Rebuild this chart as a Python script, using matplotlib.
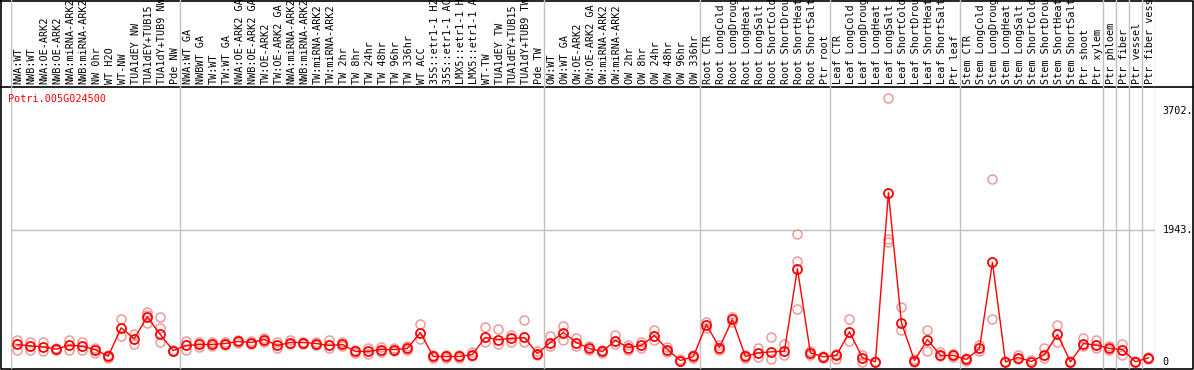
import numpy as np
import matplotlib
matplotlib.use("Agg")
import matplotlib.pyplot as plt

# column labels (as shown, truncated to 14 chars)
labels = [
    "NWA:WT", "NWB:WT", "NWA:OE-ARK2", "NWB:OE-ARK2", "NWA:miRNA-ARK2", "NWB:miRNA-ARK2",
    "NW 0hr", "WT H2O", "WT-NW", "TUA1dEY NW", "TUA1dEY+TUB15", "TUA1dY+TUB9 NW", "Pde NW",
    "NWA:WT GA", "NWBWT GA", "TW:WT", "TW:WT GA", "NWA:OE-ARK2 GA", "NWB:OE-ARK2 GA",
    "TW:OE-ARK2", "TW:OE-ARK2 GA", "NWA:miRNA-ARK2", "NWB:miRNA-ARK2", "TW:miRNA-ARK2",
    "TW:miRNA-ARK2", "TW 2hr", "TW 8hr", "TW 24hr", "TW 48hr", "TW 96hr", "TW 336hr",
    "WT ACC", "35S::etr1-1 H2", "35S::etr1-1 AC", "LMX5::etr1-1 H", "LMX5::etr1-1 A",
    "WT-TW", "TUA1dEY TW", "TUA1dEY+TUB15", "TUA1dY+TUB9 TW", "Pde TW",
    "OW:WT", "OW:WT GA", "OW:OE-ARK2", "OW:OE-ARK2 GA", "OW:miRNA-ARK2", "OW:miRNA-ARK2",
    "OW 2hr", "OW 8hr", "OW 24hr", "OW 48hr", "OW 96hr", "OW 336hr",
    "Root CTR", "Root LongCold", "Root LongDroug", "Root LongHeat", "Root LongSalt",
    "Root ShortCold", "Root ShortDrou", "Root ShortHeat", "Root ShortSalt", "Ptr root",
    "Leaf CTR", "Leaf LongCold", "Leaf LongDroug", "Leaf LongHeat", "Leaf LongSalt",
    "Leaf ShortCold", "Leaf ShortDrou", "Leaf ShortHeat", "Leaf ShortSalt", "Ptr leaf",
    "Stem CTR", "Stem LongCold", "Stem LongDroug", "Stem LongHeat", "Stem LongSalt",
    "Stem ShortCold", "Stem ShortDrou", "Stem ShortHeat", "Stem ShortSalt", "Ptr shoot",
    "Ptr xylem", "Ptr phloem", "Ptr fiber", "Ptr vessel", "Ptr fiber vess",
]

# group boundaries (column index where a separator is drawn)
separators = [0, 13, 41, 53, 63, 73, 84, 85, 86, 87, 88]

# mean expression per column
means = [
    258, 238, 224, 188, 247, 233, 180, 85, 503, 342, 665, 405, 169,
    243, 258, 258, 272, 302, 287, 331, 243, 287, 287, 272, 243, 258, 155, 155, 184, 184,
    199, 434, 81, 81, 81, 110, 361, 331, 346, 361, 125,
    287, 434, 287, 199, 155, 316, 213, 243, 390, 184, 22, 81,
    552, 213, 626, 81, 135, 150, 159, 1372, 135, 77,
    96, 445, 62, 3, 2491, 577, 22, 331, 96, 96,
    37, 199, 1465, 2, 66, 7, 110, 405, 3, 272, 247,
    199, 184, 3, 62,
]

# replicate values per column
reps = [
    [321, 174], [291, 184], [291, 159], [203, 174], [321, 174], [291, 174], [209, 135],
    [110, 62], [640, 380], [415, 268], [733, 699, 567], [665, 503, 291], [175, 165],
    [316, 184], [300, 220], [300, 230], [290, 250], [330, 280], [310, 260], [350, 300],
    [300, 200], [320, 260], [300, 270], [290, 250], [330, 200], [290, 230], [180, 130],
    [200, 120], [220, 150], [210, 160], [230, 170], [560, 340], [110, 60], [110, 60],
    [110, 60], [140, 90], [520, 300], [480, 260], [400, 300], [620, 300], [160, 100],
    [390, 230], [530, 330], [360, 240], [230, 170], [180, 130], [400, 260], [250, 180],
    [290, 200], [470, 330], [220, 150], [50, 10], [110, 60],
    [590, 500], [250, 180], [660, 590], [110, 60], [199, 77], [375, 37], [272, 96],
    [1887, 1480, 773], [155, 96], [90, 60],
    [50, 120], [626, 302], [110, 0], [10], [3886, 1810, 1766], [810, 469], [47, 0],
    [464, 169], [140, 81], [120, 80],
    [60, 20], [250, 160], [2700, 626], [20], [100, 40], [30], [213, 60], [552, 300],
    [10], [346, 230], [320, 210],
    [230, 170], [272, 110], [10], [80, 50],
]

scale_ticks = [0, 1943, 3702]
scale_text = ["0", "1943.", "3702."]
gene = "Potri.005G024500"

W, H = 1194, 370
fig = plt.figure(figsize=(W / 100, H / 100), dpi=100)

x0, x1 = 10.7, 1155.0
y_head = 87.0
y_bot = 369.0
n = len(labels)
mono = "DejaVu Sans Mono"
grey = "#c0c0c0"

# data axes
ax = fig.add_axes([x0 / W, (H - y_bot) / H, (x1 - x0) / W, (y_bot - y_head) / H])
ax.set_xlim(0, n)
ax.set_ylim(-103, 4048)
ax.axis("off")

xs = np.arange(n) + 0.5
for s in separators:
    ax.axvline(s, color=grey, lw=1, zorder=1)
ax.axhline(1943, color=grey, lw=1, zorder=1)

for i, r in enumerate(reps):
    ax.plot([xs[i]] * len(r), r, "o", mfc="none", mec="#ee9a9a", ms=6.5, mew=1.1,
            zorder=2, clip_on=False)
ax.plot(xs, means, "-", color="red", lw=1, zorder=3, clip_on=False)
ax.plot(xs, means, "o", mfc="none", mec="red", ms=6.5, mew=1.3, zorder=4, clip_on=False)

for v, t in zip(scale_ticks, scale_text):
    ax.text(88.6, v, t, ha="left", va="center", fontsize=7.3, family=mono, clip_on=False)

ax.text(-0.2, 3870, gene, color="red", ha="left", va="center", fontsize=7.3,
        family=mono, clip_on=False)

# header axes with rotated labels
hx = fig.add_axes([x0 / W, (H - y_head) / H, (x1 - x0) / W, y_head / H])
hx.set_xlim(0, n)
hx.set_ylim(y_head, 0)
hx.axis("off")
for s in separators:
    hx.axvline(s, color=grey, lw=1)
for i, lab in enumerate(labels):
    hx.text(xs[i] + 0.1, 84, lab, rotation=90, ha="center", va="bottom",
            fontsize=7.3, family=mono, clip_on=True)

# outer frame
fr = fig.add_axes([0, 0, 1, 1], zorder=-1)
fr.set_xlim(0, W)
fr.set_ylim(H, 0)
fr.axis("off")
fr.plot([1, 1193, 1193, 1, 1], [0.5, 0.5, 369, 369, 0.5], color="black", lw=1.2)
fr.plot([1, 1193], [y_head, y_head], color="black", lw=1.2)

fig.savefig("out.png", dpi=100)
